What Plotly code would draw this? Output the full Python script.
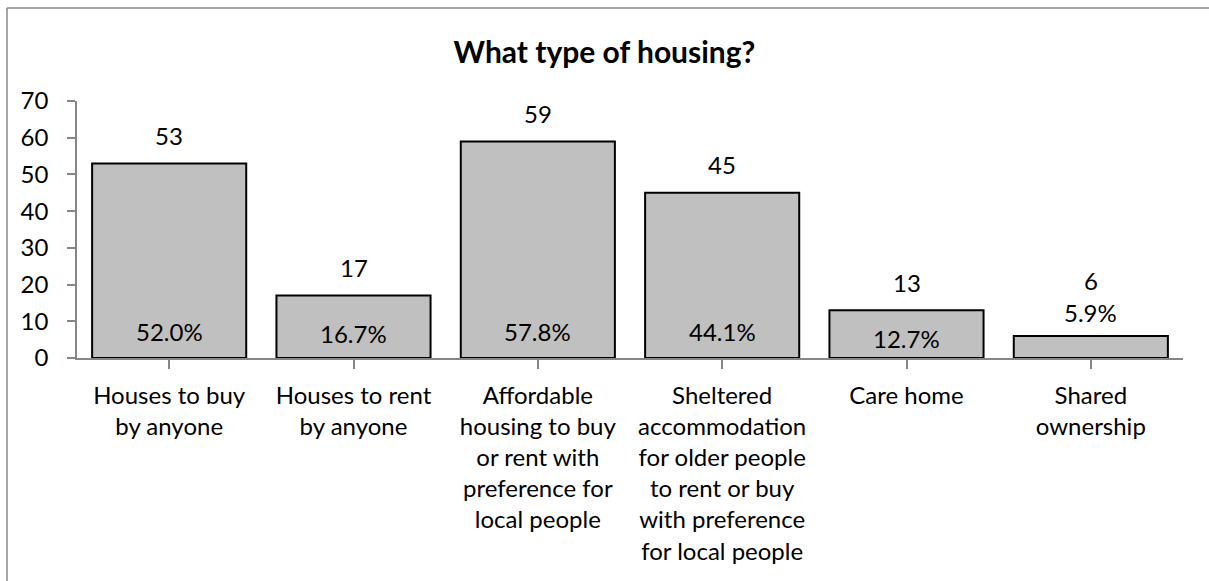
import plotly.graph_objects as go

categories = [
    "Houses to buy<br>by anyone",
    "Houses to rent<br>by anyone",
    "Affordable<br>housing to buy<br>or rent with<br>preference for<br>local people",
    "Sheltered<br>accommodation<br>for older people<br>to rent or buy<br>with preference<br>for local people",
    "Care home",
    "Shared<br>ownership",
]
counts = [53, 17, 59, 45, 13, 6]
percents = ["52.0%", "16.7%", "57.8%", "44.1%", "12.7%", "5.9%"]
y_ticks = [0, 10, 20, 30, 40, 50, 60, 70]

W, H = 1209, 581
M_L, M_R, M_T, M_B = 77, 26, 101, 223
Y_MAX = 70
FONT = "Lato, Calibri, Carlito, sans-serif"
FS = 24
px_per_unit = (H - M_T - M_B) / Y_MAX

fig = go.Figure()
fig.add_trace(go.Bar(
    x=list(range(len(categories))),
    y=counts,
    marker=dict(color="#c0c0c0", line=dict(color="#000000", width=2)),
    hoverinfo="skip",
))

annotations = []
for i, (v, p) in enumerate(zip(counts, percents)):
    bar_px = v * px_per_unit
    if bar_px >= 30:
        annotations.append(dict(x=i, y=0, xref="x", yref="y", text=p, showarrow=False,
                                yanchor="middle", yshift=min(27, 0.4 * bar_px),
                                font=dict(family=FONT, size=FS, color="#000")))
        count_shift = 28
    else:
        annotations.append(dict(x=i, y=v, xref="x", yref="y", text=p, showarrow=False,
                                yanchor="middle", yshift=23,
                                font=dict(family=FONT, size=FS, color="#000")))
        count_shift = 55
    annotations.append(dict(x=i, y=v, xref="x", yref="y", text=str(v), showarrow=False,
                            yanchor="middle", yshift=count_shift,
                            font=dict(family=FONT, size=FS, color="#000")))

plot_w = W - M_L - M_R
plot_h = H - M_T - M_B
bx0 = (7 - M_L) / plot_w
by1 = 1 + (M_T - 8) / plot_h
# outer chart border (top and left edges visible in the frame)
fig.add_shape(type="line", xref="paper", yref="paper",
              x0=bx0, x1=1 + (M_R + 10) / plot_w, y0=by1, y1=by1,
              line=dict(color="#898989", width=1.5), layer="below")
fig.add_shape(type="line", xref="paper", yref="paper",
              x0=bx0, x1=bx0, y0=-(M_B + 10) / plot_h, y1=by1,
              line=dict(color="#898989", width=1.5), layer="below")

fig.update_layout(
    width=W, height=H,
    margin=dict(l=M_L, r=M_R, t=M_T, b=M_B),
    paper_bgcolor="white", plot_bgcolor="white",
    bargap=0.164,
    showlegend=False,
    title=dict(text="<b>What type of housing?</b>", x=0.5, xanchor="center",
               y=1 - 52 / H, yanchor="middle",
               font=dict(family=FONT, size=30, color="#000")),
    font=dict(family=FONT, size=FS, color="#000"),
    annotations=annotations,
    xaxis=dict(
        tickmode="array", tickvals=list(range(len(categories))), ticktext=categories,
        range=[-0.5, len(categories) - 0.5],
        showline=True, linecolor="#868686", linewidth=1.5,
        ticks="outside", tickson="boundaries", ticklen=9, tickcolor="#868686", tickwidth=1.5,
        showgrid=False, zeroline=False, ticklabelstandoff=6,
        tickfont=dict(family=FONT, size=FS, color="#000"), tickangle=0,
    ),
    yaxis=dict(
        range=[0, Y_MAX], tickmode="array", tickvals=y_ticks,
        showline=True, linecolor="#868686", linewidth=1.5,
        ticks="outside", ticklen=8, tickcolor="#868686", tickwidth=1.5,
        showgrid=False, zeroline=False, ticklabelstandoff=14,
        tickfont=dict(family=FONT, size=FS, color="#000"),
    ),
)

fig.write_html(
    "out.html",
    config={"displayModeBar": False},
    post_script="document.body.style.margin='0';document.body.style.overflow='hidden';",
)
